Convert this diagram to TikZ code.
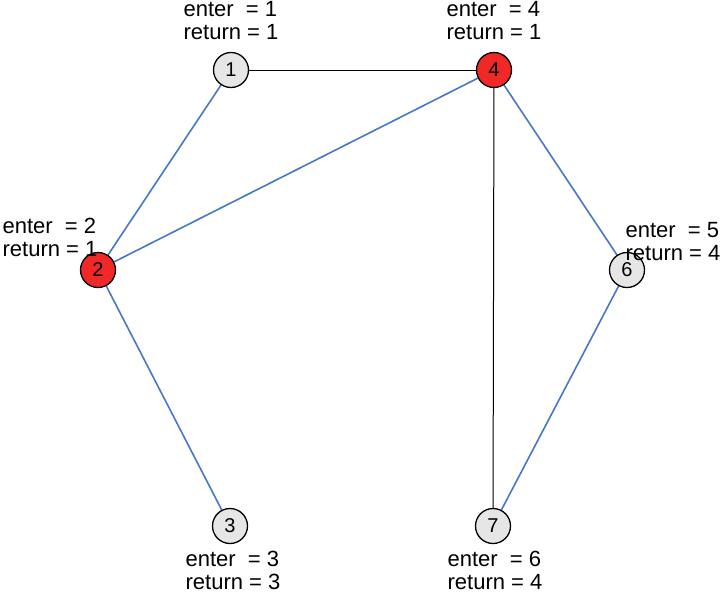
\documentclass[tikz,border=0pt]{standalone}
\usepackage{fontspec}
\setmainfont{Liberation Sans}
\usetikzlibrary{backgrounds}
\definecolor{eblue}{RGB}{70,120,200}
\definecolor{nred}{RGB}{240,40,40}
\definecolor{ngray}{RGB}{230,230,230}
\begin{document}
\begin{tikzpicture}[x=1pt,y=-1pt,
  vert/.style={circle,draw=black,line width=1.3pt,minimum size=35pt,inner sep=0pt,font=\fontsize{20}{20}\selectfont},
  gv/.style={vert,fill=ngray},
  rv/.style={vert,fill=nred},
  lbl/.style={align=left,font=\fontsize{22}{23}\selectfont,inner sep=0pt},
  be/.style={eblue,line width=1.6pt},
  ke/.style={black,line width=1pt}]
\useasboundingbox (0,0) rectangle (725,600);
\node[gv] (n1) at (231,70) {1};
\node[rv] (n4) at (494,70) {4};
\node[rv] (n2) at (98,270) {2};
\node[gv] (n6) at (627,270) {6};
\node[gv] (n3) at (230,526) {3};
\node[gv] (n7) at (493,526) {7};
\node[lbl] (l1) at (231,21) {enter \ = 1\\return = 1};
\node[lbl] (l4) at (494,21) {enter \ = 4\\return = 1};
\node[lbl] (l2) at (50,237) {enter \ = 2\\return = 1};
\node[lbl] (l6) at (673,242) {enter \ = 5\\return = 4};
\node[lbl] (l3) at (233,570) {enter \ = 3\\return = 3};
\node[lbl] (l7) at (495,570) {enter \ = 6\\return = 4};
\begin{pgfonlayer}{background}
\draw[ke] (n1) -- (n4);
\draw[ke] (n4) -- (n7);
\draw[be] (n1) -- (n2);
\draw[be] (n2) -- (n4);
\draw[be] (n2) -- (n3);
\draw[be] (n4) -- (n6);
\draw[be] (n6) -- (n7);
\end{pgfonlayer}
\end{tikzpicture}
\end{document}
